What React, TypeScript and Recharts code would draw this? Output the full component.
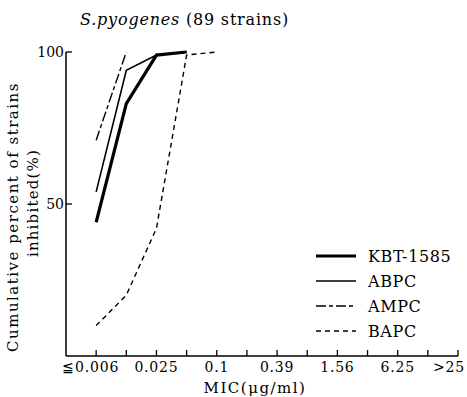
import { LineChart, Line, XAxis, YAxis, Customized } from 'recharts';

const micLabels = ['≦0.006', '0.0125', '0.025', '0.05', '0.1', '0.2', '0.39', '0.78', '1.56', '3.13', '6.25', '12.5', '>25'];
const kbt1585 = [44, 83, 99, 100];
const abpc = [54, 94, 99, 100];
const ampc = [71, 100];
const bapc = [10, 20, 42, 99, 100];

const toPoints = (vals: number[]) => vals.map((v, i) => ({ x: i, y: v }));

const series = [
  { name: 'KBT-1585', data: toPoints(kbt1585), width: 3.2, dash: undefined },
  { name: 'ABPC', data: toPoints(abpc), width: 1.6, dash: undefined },
  { name: 'AMPC', data: toPoints(ampc), width: 1.4, dash: '10 3 4 3' },
  { name: 'BAPC', data: toPoints(bapc), width: 1.4, dash: '5 4' },
];

const font = 'DejaVu Serif, Liberation Serif, serif';

const XTick = (props: any) => {
  const { x, y, payload } = props;
  const i = payload.value;
  const label = i % 2 === 0 ? micLabels[i] : '';
  const last = i === micLabels.length - 1;
  const first = i === 0;
  return (
    <g>
      <line x1={x} x2={x} y1={y} y2={y - 6} stroke="#000" strokeWidth={1.3} />
      {label && (
        <text
          x={first ? x + 23 : last ? x + 7 : x}
          y={y + 16}
          textAnchor={first || last ? 'end' : 'middle'}
          fontSize={14}
          letterSpacing={0.8}
          fontFamily={font}
          fill="#000"
        >
          {label}
        </text>
      )}
    </g>
  );
};

const YTick = (props: any) => {
  const { x, y, payload } = props;
  return (
    <g>
      <line x1={x} x2={x + 6} y1={y} y2={y} stroke="#000" strokeWidth={1.3} />
      <text x={x - 2} y={y + 5} textAnchor="end" fontSize={14} fontFamily={font} fill="#000">
        {payload.value}
      </text>
    </g>
  );
};

const Extras = () => (
  <g fontFamily={font} fill="#000">
    <text x={80} y={25} fontSize={16} letterSpacing={0.8}>
      <tspan fontStyle="italic">S.pyogenes</tspan>
      <tspan> (89 strains)</tspan>
    </text>
    <text transform="translate(18,217) rotate(-90)" textAnchor="middle" fontSize={15} letterSpacing={1.5}>
      Cumulative percent of strains
    </text>
    <text transform="translate(38,203) rotate(-90)" textAnchor="middle" fontSize={15} letterSpacing={1.2}>
      inhibited(%)
    </text>
    <text x={255} y={393} textAnchor="middle" fontSize={15} letterSpacing={1.5}>
      MIC(μg/ml)
    </text>
    {series.map((s, k) => (
      <g key={s.name}>
        <line x1={316} x2={356} y1={256 + k * 25} y2={256 + k * 25} stroke="#000" strokeWidth={s.width} strokeDasharray={s.dash} />
        <text x={368} y={262 + k * 25} fontSize={16} letterSpacing={0.6}>
          {s.name}
        </text>
      </g>
    ))}
  </g>
);

export default function App() {
  return (
    <div style={{ position: 'absolute', left: 0, top: 0, background: '#fff' }}>
      <LineChart width={467} height={397} margin={{ top: 52, right: 9, bottom: 11, left: 36 }}>
        <XAxis
          type="number"
          dataKey="x"
          domain={[-1, 12]}
          ticks={micLabels.map((_, i) => i)}
          interval={0}
          height={30}
          tickSize={0}
          tickMargin={0}
          tickLine={false}
          tick={<XTick />}
          axisLine={{ stroke: '#000', strokeWidth: 1.5 }}
          allowDuplicatedCategory={false}
        />
        <YAxis
          type="number"
          domain={[0, 100]}
          ticks={[50, 100]}
          width={30}
          tickSize={0}
          tickMargin={0}
          tickLine={false}
          tick={<YTick />}
          axisLine={{ stroke: '#000', strokeWidth: 1.5 }}
        />
        {series.map((s) => (
          <Line
            key={s.name}
            data={s.data}
            dataKey="y"
            type="linear"
            stroke="#000"
            strokeWidth={s.width}
            strokeDasharray={s.dash}
            dot={false}
            activeDot={false}
            isAnimationActive={false}
          />
        ))}
        <Customized component={Extras} />
      </LineChart>
    </div>
  );
}
